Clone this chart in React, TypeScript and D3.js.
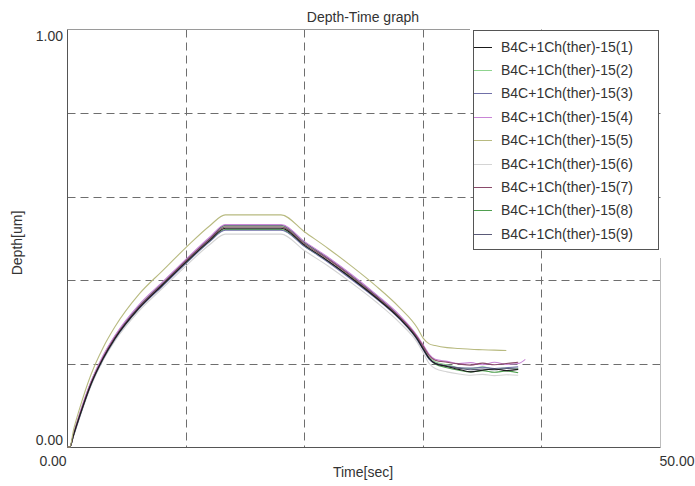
import React, { useRef, useEffect } from "react";
import * as d3 from "d3";

const times = [0, 0.2, 0.5, 1, 2, 3, 4, 6, 8, 10, 12, 13.3, 18, 20, 22, 24, 26, 28, 29.5, 30, 30.5, 31, 32, 33, 34, 35, 36, 37, 38, 38.6];

const seriesNames = [
  "B4C+1Ch(ther)-15(1)",
  "B4C+1Ch(ther)-15(2)",
  "B4C+1Ch(ther)-15(3)",
  "B4C+1Ch(ther)-15(4)",
  "B4C+1Ch(ther)-15(5)",
  "B4C+1Ch(ther)-15(6)",
  "B4C+1Ch(ther)-15(7)",
  "B4C+1Ch(ther)-15(8)",
  "B4C+1Ch(ther)-15(9)",
];

const seriesColors = ["#1a1a1a", "#8fd48f", "#7070a8", "#c985d6", "#b8ba80", "#d4d4d4", "#8a4a6a", "#4f9f4f", "#5a5a78"];

const depth1 = [0, 0, 0.028, 0.072, 0.152, 0.212, 0.26, 0.332, 0.388, 0.443, 0.495, 0.524, 0.524, 0.483, 0.445, 0.403, 0.358, 0.308, 0.258, 0.234, 0.212, 0.2, 0.193, 0.186, 0.18, 0.184, 0.187, 0.183, 0.186, null];
const depth2 = [0, 0, 0.03, 0.076, 0.157, 0.217, 0.265, 0.337, 0.393, 0.448, 0.5, 0.529, 0.529, 0.488, 0.45, 0.408, 0.362, 0.312, 0.262, 0.238, 0.215, 0.204, 0.197, 0.19, 0.188, 0.192, 0.186, 0.19, 0.188, null];
const depth3 = [0, 0, 0.026, 0.07, 0.15, 0.21, 0.258, 0.33, 0.385, 0.44, 0.492, 0.519, 0.519, 0.48, 0.442, 0.4, 0.356, 0.306, 0.256, 0.232, 0.21, 0.2, 0.194, 0.19, 0.189, 0.191, 0.188, 0.19, 0.192, null];
const depth4 = [0, 0, 0.031, 0.078, 0.158, 0.219, 0.267, 0.34, 0.395, 0.45, 0.503, 0.533, 0.533, 0.492, 0.454, 0.412, 0.366, 0.316, 0.266, 0.244, 0.222, 0.21, 0.205, 0.2, 0.202, 0.197, 0.203, 0.198, 0.2, 0.21];
const depth5 = [0, 0, 0.04, 0.09, 0.175, 0.238, 0.288, 0.365, 0.422, 0.478, 0.53, 0.556, 0.556, 0.515, 0.475, 0.432, 0.386, 0.334, 0.285, 0.26, 0.247, 0.243, 0.238, 0.236, 0.234, 0.233, 0.232, 0.231, null, null];
const depth6 = [0, 0, 0.025, 0.068, 0.147, 0.207, 0.254, 0.325, 0.38, 0.434, 0.485, 0.51, 0.51, 0.47, 0.433, 0.392, 0.348, 0.298, 0.25, 0.225, 0.2, 0.188, 0.18, 0.175, 0.172, 0.174, 0.171, 0.173, 0.172, null];
const depth7 = [0, 0, 0.029, 0.074, 0.154, 0.214, 0.262, 0.334, 0.39, 0.446, 0.498, 0.527, 0.527, 0.486, 0.449, 0.407, 0.361, 0.311, 0.263, 0.241, 0.219, 0.208, 0.203, 0.199, 0.196, 0.201, 0.197, 0.2, 0.203, null];
const depth8 = [0, 0, 0.027, 0.071, 0.151, 0.211, 0.259, 0.331, 0.387, 0.441, 0.493, 0.521, 0.521, 0.481, 0.444, 0.404, 0.359, 0.309, 0.258, 0.235, 0.211, 0.199, 0.19, 0.184, 0.18, 0.183, 0.179, 0.182, 0.178, null];
const depth9 = [0, 0, 0.03, 0.075, 0.156, 0.216, 0.264, 0.336, 0.392, 0.447, 0.5, 0.531, 0.531, 0.49, 0.452, 0.41, 0.364, 0.313, 0.262, 0.237, 0.213, 0.201, 0.194, 0.189, 0.185, 0.187, 0.185, 0.188, 0.186, null];

const allDepths = [depth1, depth2, depth3, depth4, depth5, depth6, depth7, depth8, depth9];

const xGridTicks = [10, 20, 30, 40];
const yGridTicks = [0.2, 0.4, 0.6, 0.8];

const App = () => {
  const chartRef = useRef<SVGSVGElement>(null);

  useEffect(() => {
    const width = 695;
    const height = 486;
    const left = 67.5;
    const right = 660.5;
    const top = 29.5;
    const bottom = 447;
    const font = "'Liberation Sans', Arial, sans-serif";
    const fs = 14;

    const svg = d3.select(chartRef.current);
    svg.selectAll("*").remove();
    svg.attr("width", width).attr("height", height);

    const x = d3.scaleLinear().domain([0, 50]).range([left, right]);
    const y = d3.scaleLinear().domain([0, 1]).range([bottom, top]);

    svg.append("rect").attr("width", width).attr("height", height).attr("fill", "#fff");

    // grid
    svg
      .selectAll(".vgrid")
      .data(xGridTicks)
      .enter()
      .append("line")
      .attr("x1", (d) => Math.floor(x(d)) + 0.5)
      .attr("x2", (d) => Math.floor(x(d)) + 0.5)
      .attr("y1", top)
      .attr("y2", bottom)
      .attr("stroke", "#6e6e6e")
      .attr("stroke-dasharray", "8,5");

    svg
      .selectAll(".hgrid")
      .data(yGridTicks)
      .enter()
      .append("line")
      .attr("x1", left)
      .attr("x2", right)
      .attr("y1", (d) => Math.round(y(d)) + 0.5)
      .attr("y2", (d) => Math.round(y(d)) + 0.5)
      .attr("stroke", "#6e6e6e")
      .attr("stroke-dasharray", "8,5");

    // frame
    svg.append("line").attr("x1", left).attr("x2", 470).attr("y1", top).attr("y2", top).attr("stroke", "#9a9a9a");
    svg.append("line").attr("x1", right).attr("x2", right).attr("y1", 258).attr("y2", bottom).attr("stroke", "#bdbdbd");
    svg.append("line").attr("x1", left).attr("x2", left).attr("y1", top).attr("y2", bottom + 0.5).attr("stroke", "#555");
    svg.append("line").attr("x1", left).attr("x2", right).attr("y1", bottom + 0.5).attr("y2", bottom + 0.5).attr("stroke", "#555");

    // curves
    const line = d3
      .line<number | null>()
      .defined((d) => d !== null)
      .x((_, i) => x(times[i]))
      .y((d) => y(d as number))
      .curve(d3.curveMonotoneX);

    const order = [5, 1, 7, 2, 8, 3, 6, 0, 4];
    order.forEach((k) => {
      svg
        .append("path")
        .attr("d", line(allDepths[k]))
        .attr("fill", "none")
        .attr("stroke", seriesColors[k])
        .attr("stroke-width", 1.1);
    });

    // legend
    const lg = svg.append("g");
    lg.append("rect")
      .attr("x", 473.5)
      .attr("y", 30.5)
      .attr("width", 185)
      .attr("height", 219)
      .attr("fill", "#fff")
      .attr("stroke", "#555");

    seriesNames.forEach((name, i) => {
      const cy = 46.5 + i * 23.4;
      lg.append("line")
        .attr("x1", 474)
        .attr("x2", 492)
        .attr("y1", Math.round(cy) + 0.5)
        .attr("y2", Math.round(cy) + 0.5)
        .attr("stroke", seriesColors[i]);
      lg.append("text")
        .attr("x", 501)
        .attr("y", cy + 5)
        .attr("font-family", font)
        .attr("font-size", fs)
        .attr("fill", "#333")
        .text(name);
    });

    // labels
    const txt = (tx: number, ty: number, s: string, anchor: string, extra?: string) =>
      svg
        .append("text")
        .attr("x", tx)
        .attr("y", ty)
        .attr("text-anchor", anchor)
        .attr("font-family", font)
        .attr("font-size", fs)
        .attr("fill", "#333")
        .attr("transform", extra || null)
        .text(s);

    txt(363, 22, "Depth-Time graph", "middle");
    txt(63, 41, "1.00", "end");
    txt(63, 445, "0.00", "end");
    txt(53, 466, "0.00", "middle");
    txt(677, 466, "50.00", "middle");
    txt(363, 477, "Time[sec]", "middle");
    txt(0, 0, "Depth[um]", "middle", "translate(22,243) rotate(-90)");
  }, []);

  return (
    <div style={{ position: "absolute", left: 0, top: 0 }}>
      <svg ref={chartRef} style={{ display: "block" }} />
    </div>
  );
};

export default App;
